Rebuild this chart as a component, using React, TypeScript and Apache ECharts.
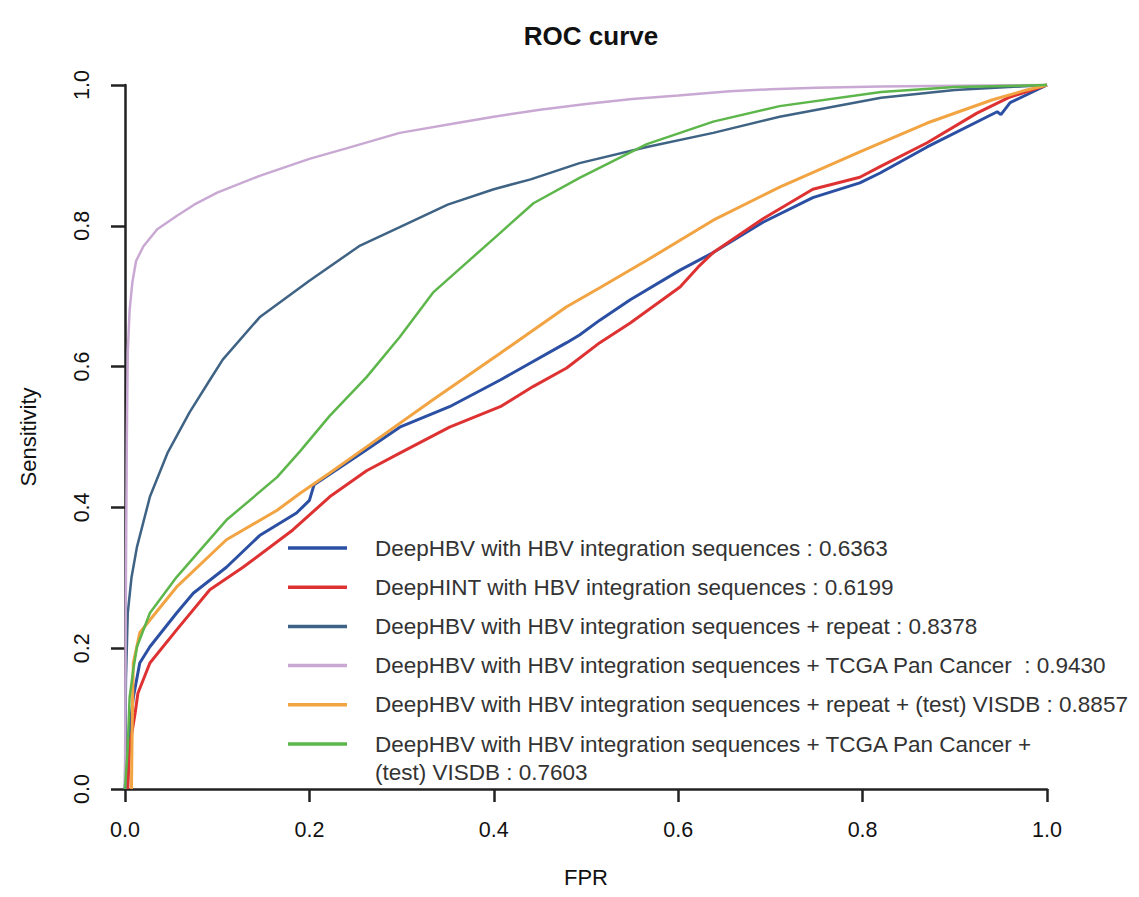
import React, { useEffect, useRef } from "react";
import * as echarts from "echarts";

const seriesNames = [
  "DeepHBV with HBV integration sequences : 0.6363",
  "DeepHINT with HBV integration sequences : 0.6199",
  "DeepHBV with HBV integration sequences + repeat : 0.8378",
  "DeepHBV with HBV integration sequences + TCGA Pan Cancer  : 0.9430",
  "DeepHBV with HBV integration sequences + repeat + (test) VISDB : 0.8857",
  "DeepHBV with HBV integration sequences + TCGA Pan Cancer +\n(test) VISDB : 0.7603",
];

const seriesColors = ["#2b4fa3", "#de3232", "#3f6384", "#c9a9d3", "#f2a443", "#5cb64a"];
const seriesWidths = [3, 3, 2.5, 2.5, 3, 2.5];

// [FPR, Sensitivity]
const deepHBV: number[][] = [
  [0, 0], [0.002, 0.03], [0.005, 0.084], [0.009, 0.13], [0.016, 0.179], [0.027, 0.202],
  [0.056, 0.25], [0.074, 0.278], [0.11, 0.315], [0.146, 0.36], [0.186, 0.392], [0.2, 0.41],
  [0.205, 0.432], [0.262, 0.482], [0.298, 0.514], [0.352, 0.543], [0.407, 0.581],
  [0.479, 0.634], [0.493, 0.645], [0.515, 0.666], [0.548, 0.695], [0.602, 0.737],
  [0.638, 0.762], [0.692, 0.805], [0.746, 0.84], [0.797, 0.861], [0.819, 0.875],
  [0.87, 0.912], [0.946, 0.962], [0.95, 0.958], [0.96, 0.975], [1, 1],
];

const deepHINT: number[][] = [
  [0.003, 0], [0.004, 0.03], [0.005, 0.06], [0.011, 0.108], [0.014, 0.136], [0.027, 0.179],
  [0.056, 0.226], [0.092, 0.283], [0.128, 0.315], [0.182, 0.368], [0.222, 0.415],
  [0.262, 0.452], [0.298, 0.477], [0.352, 0.514], [0.407, 0.543], [0.443, 0.572],
  [0.479, 0.598], [0.515, 0.634], [0.548, 0.662], [0.602, 0.713], [0.622, 0.742],
  [0.638, 0.762], [0.692, 0.81], [0.746, 0.852], [0.797, 0.869], [0.819, 0.884],
  [0.87, 0.918], [0.924, 0.96], [0.96, 0.983], [1, 1],
];

const repeat: number[][] = [
  [0, 0], [0.001, 0.155], [0.003, 0.25], [0.007, 0.3], [0.013, 0.344], [0.027, 0.415],
  [0.046, 0.477], [0.07, 0.535], [0.092, 0.581], [0.106, 0.61], [0.146, 0.67],
  [0.2, 0.722], [0.255, 0.772], [0.298, 0.798], [0.35, 0.83], [0.4, 0.852],
  [0.44, 0.866], [0.493, 0.889], [0.566, 0.912], [0.638, 0.932], [0.71, 0.955],
  [0.82, 0.982], [0.9, 0.993], [1, 1],
];

const tcga: number[][] = [
  [0, 0], [0.001, 0.3], [0.002, 0.5], [0.003, 0.62], [0.005, 0.68], [0.008, 0.72],
  [0.012, 0.75], [0.02, 0.771], [0.035, 0.795], [0.056, 0.814], [0.075, 0.83],
  [0.1, 0.847], [0.146, 0.871], [0.2, 0.895], [0.24, 0.91], [0.298, 0.932],
  [0.36, 0.946], [0.4, 0.955], [0.45, 0.965], [0.5, 0.973], [0.55, 0.98], [0.6, 0.985],
  [0.656, 0.991], [0.7, 0.994], [0.75, 0.996], [0.82, 0.998], [0.9, 0.999], [1, 1],
];

const repeatVisdb: number[][] = [
  [0.007, 0], [0.008, 0.108], [0.009, 0.179], [0.016, 0.222], [0.027, 0.24], [0.056, 0.287],
  [0.11, 0.354], [0.165, 0.396], [0.19, 0.42], [0.222, 0.449], [0.262, 0.486],
  [0.334, 0.553], [0.407, 0.619], [0.479, 0.685], [0.515, 0.712], [0.566, 0.751],
  [0.638, 0.808], [0.71, 0.855], [0.797, 0.905], [0.87, 0.946], [0.941, 0.979],
  [0.978, 0.993], [1, 1],
];

const tcgaVisdb: number[][] = [
  [0, 0], [0.003, 0.06], [0.005, 0.13], [0.009, 0.17], [0.013, 0.202], [0.027, 0.25],
  [0.056, 0.301], [0.11, 0.382], [0.165, 0.443], [0.19, 0.48], [0.222, 0.53],
  [0.262, 0.585], [0.298, 0.642], [0.334, 0.705], [0.37, 0.747], [0.407, 0.79],
  [0.443, 0.832], [0.493, 0.868], [0.566, 0.916], [0.638, 0.948], [0.71, 0.97],
  [0.82, 0.99], [0.9, 0.997], [1, 1],
];

const seriesData = [deepHBV, deepHINT, repeat, tcga, repeatVisdb, tcgaVisdb];

const FONT = "'Liberation Sans', Arial, Helvetica, sans-serif";

export default function App() {
  const ref = useRef<HTMLDivElement>(null);
  useEffect(() => {
    if (!ref.current) return;
    const chart = echarts.init(ref.current, null, { renderer: "svg" });

    const legendX0 = 288;
    const legendX1 = 347;
    const legendTextX = 375;
    const legendY0 = 548;
    const legendPitch = 39.2;

    const legendGraphics: any[] = [];
    seriesNames.forEach((name, i) => {
      const y = legendY0 + i * legendPitch;
      legendGraphics.push({
        type: "line",
        shape: { x1: legendX0, y1: y, x2: legendX1, y2: y },
        style: { stroke: seriesColors[i], lineWidth: 3.5 },
      });
      legendGraphics.push({
        type: "text",
        x: legendTextX,
        y: y - 14,
        style: {
          text: name,
          fill: "#333",
          font: `22.5px ${FONT}`,
          lineHeight: 28,
          textVerticalAlign: "top",
        },
      });
    });

    chart.setOption({
      animation: false,
      backgroundColor: "#fff",
      title: {
        text: "ROC curve",
        left: 586,
        top: 18,
        textAlign: "center",
        textStyle: { fontFamily: FONT, fontSize: 26, fontWeight: "bold", color: "#111" },
      },
      grid: { left: 125, right: 92, top: 85, bottom: 108, containLabel: false },
      xAxis: {
        type: "value",
        min: 0,
        max: 1,
        interval: 0.2,
        name: "FPR",
        nameLocation: "middle",
        nameGap: 77,
        nameTextStyle: { fontFamily: FONT, fontSize: 22, color: "#111" },
        axisLine: { show: true, lineStyle: { color: "#222", width: 2.5 } },
        axisTick: { show: true, length: 13, lineStyle: { color: "#222", width: 2.5 } },
        axisLabel: {
          fontFamily: FONT,
          fontSize: 21.5,
          color: "#111",
          margin: 30,
          formatter: (v: number) => v.toFixed(1),
        },
        splitLine: { show: false },
      },
      yAxis: {
        type: "value",
        min: 0,
        max: 1,
        interval: 0.2,
        name: "Sensitivity",
        nameLocation: "middle",
        nameGap: 86,
        nameRotate: 90,
        nameTextStyle: { fontFamily: FONT, fontSize: 22, color: "#111" },
        axisLine: { show: true, lineStyle: { color: "#222", width: 2.5 } },
        axisTick: { show: true, length: 14, lineStyle: { color: "#222", width: 2.5 } },
        axisLabel: {
          fontFamily: FONT,
          fontSize: 21.5,
          color: "#111",
          margin: 32,
          rotate: 90,
          formatter: (v: number) => v.toFixed(1),
        },
        splitLine: { show: false },
      },
      series: seriesData.map((d, i) => ({
        type: "line",
        name: seriesNames[i],
        data: d,
        showSymbol: false,
        symbol: "none",
        clip: false,
        smooth: false,
        lineStyle: { color: seriesColors[i], width: seriesWidths[i] },
        itemStyle: { color: seriesColors[i] },
        z: 2 + i,
      })),
      graphic: legendGraphics,
    });
    return () => chart.dispose();
  }, []);

  return (
    <div
      ref={ref}
      style={{ position: "fixed", left: 0, top: 0, width: 1139, height: 897, background: "#fff" }}
    />
  );
}
